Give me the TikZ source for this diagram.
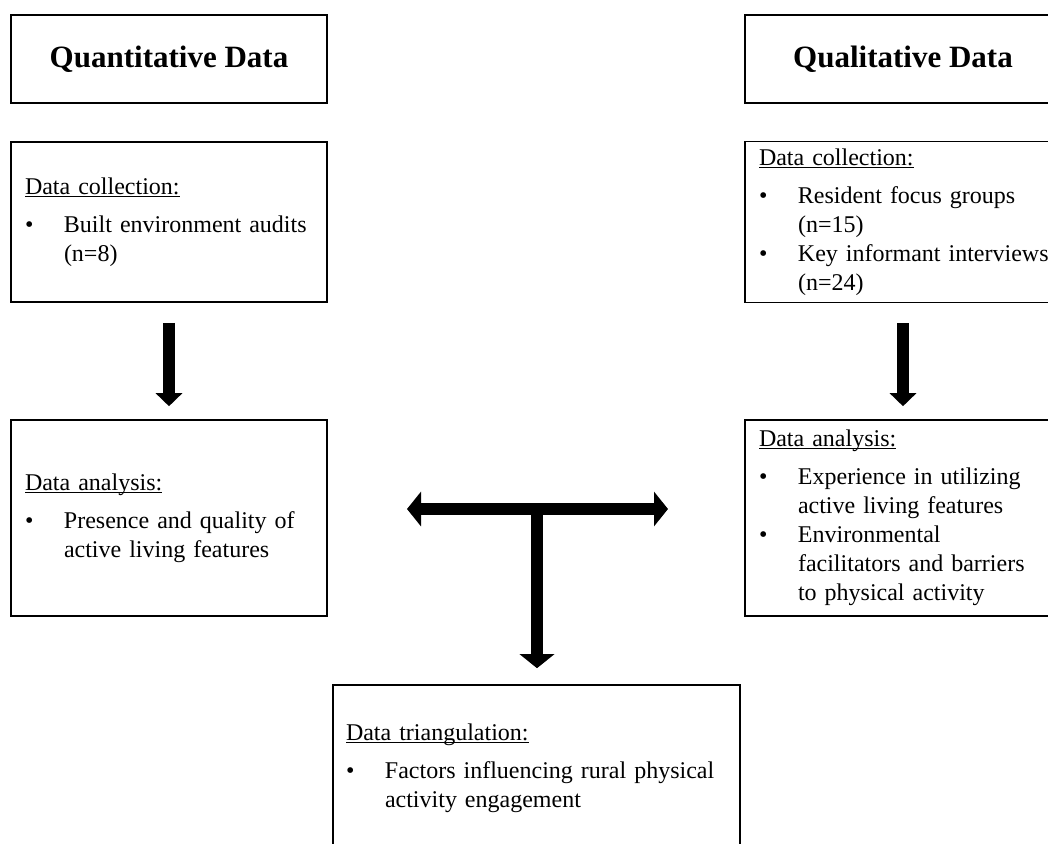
\documentclass[tikz,border=0pt]{standalone}
\usepackage{fontspec}
\setmainfont{Liberation Serif}
\usetikzlibrary{arrows.meta}
\tikzstyle{title} = [rectangle, draw, line width=1.6pt, minimum width=316pt,
    minimum height=88pt, font=\fontsize{31}{37}\selectfont\bfseries]
\tikzstyle{block} = [rectangle, draw, line width=1.6pt, text width=288pt,
    inner xsep=14pt, align=left, minimum height=160pt, font=\fontsize{24}{29}\selectfont]
\tikzstyle{line} = [draw, line width=12pt, -{Triangle[length=13pt,width=26pt]}]
\tikzstyle{bigline} = [draw, line width=12pt,
    {Triangle[length=14pt,width=34pt]}-{Triangle[length=14pt,width=34pt]}]

\newcommand{\hd}[1]{\underline{\smash{#1}}\strut\par\vspace{9pt}}
% bullet list: #1 = width of the text column, #2 = rows "\textbullet & text \\"
\newcommand{\pitems}[2]{\par\noindent\begin{tabular}[t]{@{}p{39pt}@{}p{#1}@{}}#2\end{tabular}}

\begin{document}
\begin{tikzpicture}[x=1pt, y=-1pt]
		\useasboundingbox (0,0) rectangle (1048,843);
		\node [title] (qntitle) at (169,59) {Quantitative Data};
		\node [title, node distance=734pt, right of=qntitle] (qltitle) {Qualitative Data};
		\node [block, node distance=163pt, below of=qntitle] (qncoll)
			{\hd{Data collection:}\pitems{260pt}{\textbullet & Built environment audits\newline (n=8)}};
		\node [block, node distance=296pt, below of=qncoll, minimum height=196pt] (qnanal)
			{\hd{Data analysis:}\pitems{260pt}{\textbullet & Presence and quality of\newline active living features}};
		\node [block, node distance=734pt, right of=qncoll] (qlcoll)
			{\hd{Data collection:}\pitems{260pt}{\textbullet & Resident focus groups\newline (n=15)\\
			\textbullet & Key informant interviews\newline (n=24)}};
		\node [block, node distance=734pt, right of=qnanal, minimum height=196pt] (qlanal)
			{\hd{Data analysis:}\pitems{260pt}{\textbullet & Experience in utilizing\newline active living features\\
			\textbullet & Environmental\newline facilitators and barriers\newline to physical activity}};
		\node [block, text width=381pt, inner xsep=13pt, minimum height=166pt] (tri) at (536.5,768)
			{\hd{Data triangulation:}\pitems{342pt}{\textbullet & Factors influencing rural physical\newline activity engagement}};
		\coordinate (tl) at (407,509);
		\coordinate (tr) at (668,509);
		\coordinate (tj) at (537,509);
		
		\path [line, shorten <=20pt, shorten >=13pt] (qncoll) -- (qnanal);
		\path [line, shorten <=20pt, shorten >=13pt] (qlcoll) -- (qlanal);
		\path [bigline] (tl) -- (tr);
		\path [line, -{Triangle[length=14pt,width=34pt]}, shorten >=16pt] (tj) -- (tj |- tri.north);
	\end{tikzpicture}
\end{document}
